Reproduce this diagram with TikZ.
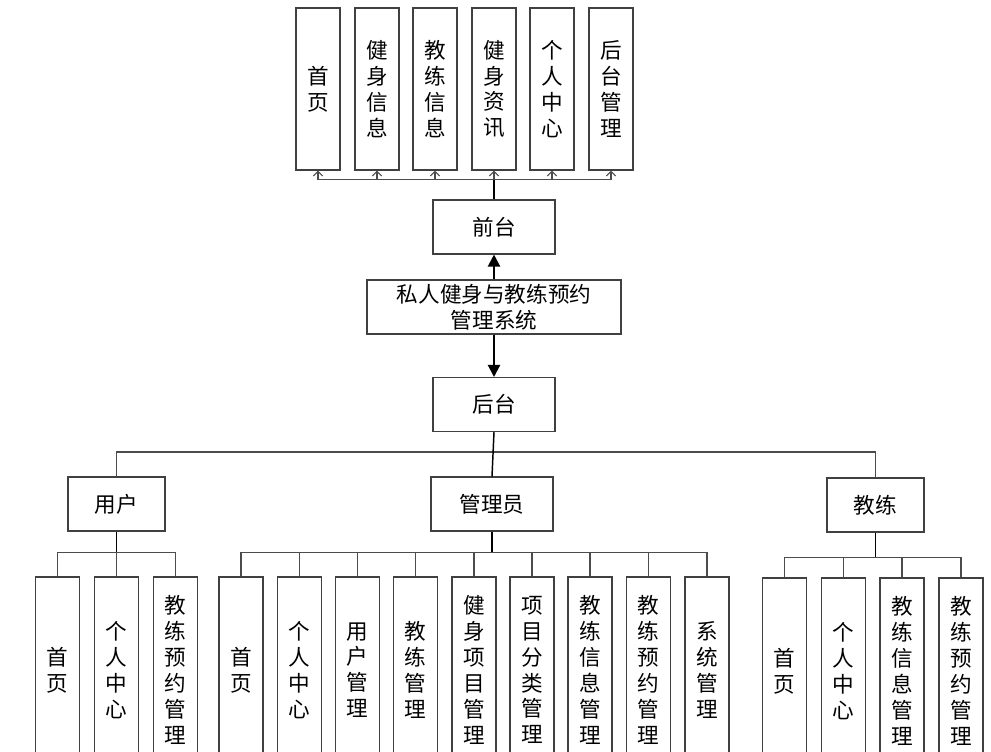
\documentclass[tikz,border=0pt]{standalone}
\usepackage{fontspec}
\newfontfamily\cjk{Noto Sans CJK SC}
\usetikzlibrary{arrows.meta,positioning,calc}

\begin{document}
\begin{tikzpicture}[
  x=0.75pt, y=-0.75pt,
  box/.style={draw=black!75, line width=0.8pt, inner sep=0pt, align=center,
    font=\cjk\fontsize{16.2}{19.4}\selectfont},
  mainbox/.style={box, minimum width=91.5pt, minimum height=40.5pt},
  grpbox/.style={box, minimum width=72.75pt, minimum height=40.5pt},
  topcol/.style={box, minimum width=33pt, minimum height=121.5pt},
  botcol/.style={box, minimum width=33pt, minimum height=139.5pt},
  conn/.style={draw=black!70, line width=0.8pt},
  stem/.style={draw=black, line width=1.1pt},
  tip/.style={conn, -{Straight Barb[length=3.5pt,width=7pt]}},
  big/.style={draw=black, line width=1.6pt, -{Triangle[length=9pt,width=9pt]}},
]
  \useasboundingbox (0,0) rectangle (991,751);

  % centre column
  \node[box, minimum width=190.5pt, minimum height=40.5pt] (sys) at (494,307)
    {私人健身与教练预约\\管理系统};
  \node[mainbox] (qt) at (494,227) {前台};
  \node[mainbox] (ht) at (494,404.5) {后台};

  \draw[big] (sys) -- (qt);
  \draw[big] (sys) -- (ht);

  % front pages
  \foreach \x/\t [count=\i] in {318/{首\\页}, 377/{健\\身\\信\\息}, 435/{教\\练\\信\\息},
      494/{健\\身\\资\\讯}, 552/{个\\人\\中\\心}, 611/{后\\台\\管\\理}}
    \node[topcol] (f\i) at (\x,89) {\t};

  \draw[stem, line width=1.6pt] (qt.north) -- ++(0,-20) coordinate (fbus);
  \foreach \i in {1,...,6}
    \draw[tip] (fbus) -| (f\i.south);

  % roles
  \node[grpbox] (user) at (116.5,504) {用户};
  \node[mainbox] (admin) at (492,504) {管理员};
  \node[grpbox] (coach) at (875.5,505) {教练};

  \draw[conn] (user.north) |- (ht.south |- 0,452) -| (coach.north);
  \draw[stem] (ht.south) -- (admin.north);

  % user pages
  \foreach \x/\t [count=\i] in {57.5/{首\\页}, 116.5/{个\\人\\中\\心},
      175.5/{教\\练\\预\\约\\管\\理}}
    \node[botcol] (u\i) at (\x,670) {\t};
  \draw[stem] (user.south) -- ++(0,21) coordinate (ubus);
  \foreach \i in {1,2,3}
    \draw[conn] (ubus) -| (u\i.north);

  % admin pages
  \foreach \x/\t [count=\i] in {241/{首\\页}, 299.5/{个\\人\\中\\心}, 357.5/{用\\户\\管\\理},
      415.5/{教\\练\\管\\理}, 474/{健\\身\\项\\目\\管\\理}, 532/{项\\目\\分\\类\\管\\理},
      590/{教\\练\\信\\息\\管\\理}, 648.5/{教\\练\\预\\约\\管\\理}, 707/{系\\统\\管\\理}}
    \node[botcol] (a\i) at (\x,670) {\t};
  \draw[stem, line width=1.6pt] (admin.south) -- ++(0,21) coordinate (abus);
  \foreach \i in {1,...,9}
    \draw[conn] (abus) -| (a\i.north);

  % coach pages
  \foreach \x/\t [count=\i] in {784.5/{首\\页}, 843.5/{个\\人\\中\\心},
      902/{教\\练\\信\\息\\管\\理}, 961/{教\\练\\预\\约\\管\\理}}
    \node[botcol] (c\i) at (\x,671) {\t};
  \draw[stem] (coach.south) -- ++(0,25) coordinate (cbus);
  \foreach \i in {1,...,4}
    \draw[conn] (cbus) -| (c\i.north);
\end{tikzpicture}
\end{document}
